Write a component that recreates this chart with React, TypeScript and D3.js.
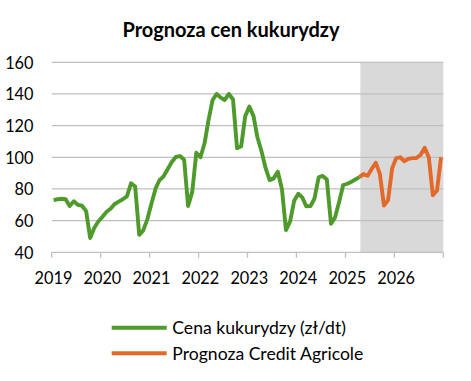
import React from "react";
import * as d3 from "d3";

const W = 471;
const H = 381;

// Monthly maize price (zł/dt), Jan 2019 – Apr 2025
const priceValues: number[] = [
  73, 73.5, 73.8, 73.5, 69.2, 72.2, 70, 69.4, 66, 49, 55.5, 59.5,
  62.5, 65.6, 67.5, 70.5, 72, 73.5, 75.3, 83.6, 81.5, 51, 54, 61,
  71, 80.5, 85.5, 88, 92.5, 97, 100.2, 100.8, 98.5, 69.2, 78.3, 102.9,
  100, 109, 123, 136, 140, 137.7, 136.2, 140, 136.5, 105.7, 107, 126,
  132, 126, 113, 104, 93.5, 85.6, 86.7, 90.9, 80, 54, 59.5, 72.5,
  77, 74.5, 69, 69.2, 74, 87.4, 88.2, 86, 58, 62, 72, 82.5,
  83.3, 84.5, 86, 87.5,
];
const priceStartMonth = 0; // months after Jan 2019

// Credit Agricole forecast, Apr 2025 – Dec 2026
const forecastValues: number[] = [
  87.5, 89.4, 88.3, 92.5, 96.6, 89.5, 69.5, 73, 93, 99.5, 100, 97.5,
  99, 99.5, 99.5, 101.5, 106, 100, 76, 79, 100,
];
const forecastStartMonth = 75;

const yearTicks: number[] = [2019, 2020, 2021, 2022, 2023, 2024, 2025, 2026, 2027];
const yearLabels: string[] = ["2019", "2020", "2021", "2022", "2023", "2024", "2025", "2026"];
const yTicks: number[] = [40, 60, 80, 100, 120, 140, 160];
const shadeStart = new Date(2025, 3, 22);
const shadeEnd = new Date(2027, 0, 1);

const title = "Prognoza cen kukurydzy";
const seriesNames: string[] = ["Cena kukurydzy (zł/dt)", "Prognoza Credit Agricole"];
const seriesColors: string[] = ["#4E9A2B", "#E2692A"];

type Pt = { date: Date; value: number };
const toPoints = (vals: number[], startMonth: number): Pt[] =>
  vals.map((v, i) => ({ date: new Date(2019, startMonth + i, 15), value: v }));

export default function App() {
  const x = d3
    .scaleTime()
    .domain([new Date(2019, 0, 1), new Date(2027, 0, 1)])
    .range([51.7, 443.3]);
  const y = d3.scaleLinear().domain([40, 160]).range([252.3, 62.3]);

  const line = d3
    .line<Pt>()
    .x((d) => x(d.date))
    .y((d) => y(d.value))
    .curve(d3.curveLinear);

  const price = toPoints(priceValues, priceStartMonth);
  const forecast = toPoints(forecastValues, forecastStartMonth);
  const font = "Lato, 'Open Sans', sans-serif";
  const axisY = y(40);

  return (
    <svg
      width={W}
      height={H}
      style={{ position: "absolute", left: 0, top: 0, background: "#fff" }}
      fontFamily={font}
    >
      <rect x={0} y={0} width={W} height={H} fill="#fff" />
      <text
        x={231}
        y={37}
        textAnchor="middle"
        fontSize={20}
        fontWeight="bold"
        fill="#000"
      >
        {title}
      </text>

      <rect
        x={x(shadeStart)}
        y={y(160)}
        width={x(shadeEnd) - x(shadeStart)}
        height={axisY - y(160)}
        fill="#D9D9D9"
      />

      {yTicks.slice(1).map((t) => (
        <line
          key={t}
          x1={x.range()[0]}
          x2={x.range()[1]}
          y1={y(t)}
          y2={y(t)}
          stroke="#BFBFBF"
          strokeWidth={1.3}
        />
      ))}

      <line
        x1={x.range()[0]}
        x2={x.range()[1]}
        y1={axisY}
        y2={axisY}
        stroke="#BFBFBF"
        strokeWidth={1.3}
      />
      {yearTicks.map((yr) => (
        <line
          key={yr}
          x1={x(new Date(yr, 0, 1))}
          x2={x(new Date(yr, 0, 1))}
          y1={axisY}
          y2={axisY + 5.5}
          stroke="#BFBFBF"
          strokeWidth={1.3}
        />
      ))}
      {yearLabels.map((lab, i) => (
        <text
          key={lab}
          x={x(new Date(yearTicks[i], 0, 1)) + 1.8}
          y={284.3}
          textAnchor="middle"
          fontSize={16.3}
          fill="#000"
        >
          {lab}
        </text>
      ))}
      {yTicks.map((t) => (
        <text
          key={t}
          x={33.5}
          y={y(t)}
          textAnchor="end"
          dominantBaseline="central"
          fontSize={16.3}
          fill="#000"
        >
          {t}
        </text>
      ))}

      <path
        d={line(price) || ""}
        fill="none"
        stroke={seriesColors[0]}
        strokeWidth={3.9}
        strokeLinejoin="round"
      />
      <path
        d={line(forecast) || ""}
        fill="none"
        stroke={seriesColors[1]}
        strokeWidth={3.9}
        strokeLinejoin="round"
      />

      {seriesNames.map((name, i) => (
        <g key={name} transform={`translate(0, ${327.7 + i * 25.6})`}>
          <line x1={111.7} x2={166.7} y1={0} y2={0} stroke={seriesColors[i]} strokeWidth={3.9} />
          <text x={172.3} y={0} dominantBaseline="central" fontSize={17.6} fill="#000">
            {name}
          </text>
        </g>
      ))}
    </svg>
  );
}
